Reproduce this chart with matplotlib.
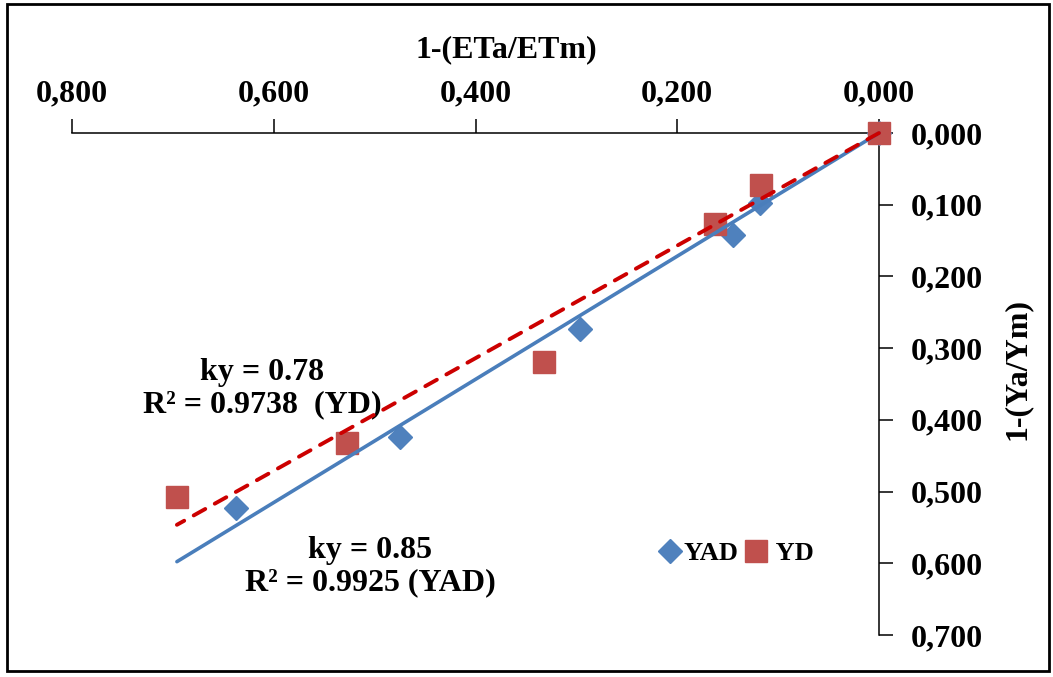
import numpy as np
import matplotlib
matplotlib.use("Agg")
import matplotlib.pyplot as plt
from matplotlib.patches import Rectangle
from matplotlib.ticker import FuncFormatter

# values
yad_x = [0.000, 0.118, 0.145, 0.296, 0.475, 0.637]
yad_y = [0.000, 0.098, 0.142, 0.273, 0.424, 0.523]
yd_x = [0.000, 0.117, 0.163, 0.332, 0.527, 0.696]
yd_y = [0.000, 0.073, 0.127, 0.319, 0.432, 0.508]

x_ticks = [0.0, 0.2, 0.4, 0.6, 0.8]
y_ticks = [0.0, 0.1, 0.2, 0.3, 0.4, 0.5, 0.6, 0.7]

yd_note = "ky = 0.78\nR² = 0.9738  (YD)"
yad_note = "ky = 0.85\nR² = 0.9925 (YAD)"

BLUE = "#4F81BD"
BLUE_LINE = "#4A7EBB"
RED = "#C0504D"
RED_LINE = "#CC0000"

plt.rcParams["font.family"] = ["Liberation Serif", "DejaVu Serif"]
plt.rcParams["font.weight"] = "bold"


def slope_through_origin(x, y):
    x = np.asarray(x); y = np.asarray(y)
    return (x * y).sum() / (x * x).sum()


W, H = 1053, 677
fig = plt.figure(figsize=(W / 100, H / 100), dpi=100)
# axes box in pixels: x 72..879, y 133..635
ax = fig.add_axes([72 / W, 1 - 635 / H, (879 - 72) / W, (635 - 133) / H])

ax.plot(yad_x, yad_y, ls="none", marker="D", ms=12.5, color=BLUE, label="YAD",
        zorder=3, clip_on=False)
ax.plot(yd_x, yd_y, ls="none", marker="s", ms=16, color=RED, label=" YD",
        zorder=3, clip_on=False)

# trend lines forced through the origin, spanning the full data range
xmax = max(max(yad_x), max(yd_x))
xs = np.array([0.0, xmax])
ax.plot(xs, slope_through_origin(yad_x, yad_y) * xs, color=BLUE_LINE, lw=2.6,
        solid_capstyle="round", zorder=4, clip_on=False)
ax.plot(xs, slope_through_origin(yd_x, yd_y) * xs, color=RED_LINE, lw=2.8,
        dashes=(3.4, 2.8), dash_capstyle="round", zorder=4, clip_on=False)

ax.set_xlim(0.8, 0.0)
ax.set_ylim(0.7, 0.0)
ax.set_xticks(x_ticks)
ax.set_yticks(y_ticks)
comma = FuncFormatter(lambda v, _: f"{v:.3f}".replace(".", ","))
ax.xaxis.set_major_formatter(comma)
ax.yaxis.set_major_formatter(comma)

ax.xaxis.tick_top()
ax.yaxis.tick_right()
ax.tick_params(axis="x", direction="out", length=10, width=1.1, pad=8, labelsize=23)
ax.tick_params(axis="y", direction="out", length=10, width=1.1, pad=13, labelsize=23)
for s in ("left", "bottom"):
    ax.spines[s].set_visible(False)
for s in ("top", "right"):
    ax.spines[s].set_linewidth(1.1)

ax.xaxis.set_label_position("top")
ax.set_xlabel("1-(ETa/ETm)", fontsize=23, fontweight="bold")
ax.xaxis.set_label_coords((506 - 72) / 807, (635 - 57) / 502)
ax.yaxis.set_label_position("right")
ax.set_ylabel("1-(Ya/Ym)", fontsize=23, fontweight="bold")
ax.yaxis.set_label_coords((1003 - 72) / 807, (635 - 369) / 502)

ax.text((262 - 72) / 807, (635 - 389) / 502, yd_note, transform=ax.transAxes,
        ha="center", va="center", fontsize=23, fontweight="bold", linespacing=1.15)
ax.text((370 - 72) / 807, (635 - 567) / 502, yad_note, transform=ax.transAxes,
        ha="center", va="center", fontsize=23, fontweight="bold", linespacing=1.15)

ax.legend(loc="center", bbox_to_anchor=((735 - 72) / 807, (635 - 553) / 502),
          ncol=2, frameon=False, fontsize=19, handletextpad=0.0, columnspacing=0.2,
          handlelength=1.0, borderaxespad=0, markerscale=0.95)

# outer frame round the whole chart
fig.patches.append(Rectangle((7 / W, 1 - 671 / H), (1049 - 7) / W, (671 - 4) / H,
                             transform=fig.transFigure, fill=False, ec="black", lw=2))

fig.savefig("out.png", dpi=100)
